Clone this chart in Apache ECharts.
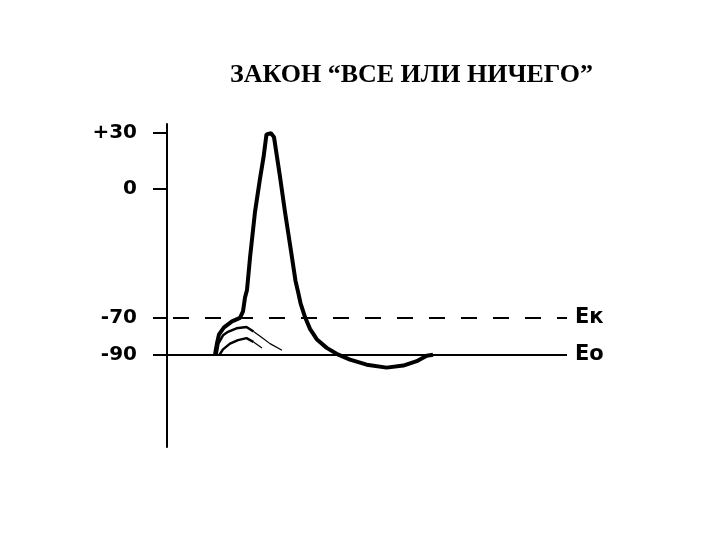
<!DOCTYPE html>
<html>
<head>
<meta charset="utf-8">
<script src="https://cdn.jsdelivr.net/npm/echarts@6/dist/echarts.min.js"></script>
<style>html,body{margin:0;padding:0;background:#fff}#c{width:720px;height:540px}</style>
</head>
<body>
<div id="c"></div>
<script>
// Title and axis labels
const titleText = 'ЗАКОН “ВСЕ ИЛИ НИЧЕГО”';
const yTicks = [30, 0, -70, -90];
const yTickLabels = ['+30', '0', '-70', '-90'];
// Reference potentials (mV)
const EK = -70;
const E0 = -90;
const lineNames = ['Ек', 'Ео'];

// Action potential: [time, mV]
const actionPotential = [
  [4.8, -90], [5.0, -83.8], [5.2, -79], [5.7, -75.2], [6.5, -71.9], [7.3, -70],
  [7.6, -66.5], [7.8, -59], [8.0, -54.9], [8.3, -37.5], [8.8, -12.6], [9.3, 5.4],
  [9.65, 16.9], [9.95, 29.4], [10.1, 30], [10.4, 30], [10.7, 27.9], [11.3, 6.4],
  [11.8, -12.7], [12.45, -35.6], [12.85, -50], [13.15, -57], [13.35, -62],
  [13.8, -69.6], [14.3, -76.0], [14.97, -81.6], [15.97, -86.3], [17.13, -90],
  [18.3, -92.7], [19.97, -95.4], [21.97, -97.0], [23.63, -95.9], [24.97, -93.5],
  [25.97, -90.6], [26.6, -90]
];
// Subthreshold responses (rise + peak, then thin decay tail)
const responseA = [[4.95, -90], [5.15, -83.8], [5.6, -79.5], [6.1, -77.6], [6.95, -75.7], [7.95, -75.0], [8.65, -77.4]];
const responseATail = [[8.65, -77.4], [9.45, -80.5], [10.3, -84.0], [11.5, -87.6]];
const responseB = [[5.25, -90], [5.6, -87.1], [6.3, -84.0], [7.1, -82.1], [7.95, -81.0], [8.65, -83.1]];
const responseBTail = [[8.65, -83.1], [9.5, -86.4]];

const chart = echarts.init(document.getElementById('c'), null, {renderer: 'canvas'});
const lineSeries = (data, w) => ({
  type: 'line', data: data, showSymbol: false, symbol: 'none', smooth: false,
  lineStyle: {color: '#000', width: w}, silent: true, animation: false
});
const apSeries = lineSeries(actionPotential, 4);
apSeries.markLine = {
  silent: true, symbol: 'none', animation: false,
  label: {show: true, position: 'end', distance: 8, formatter: p => p.name,
          color: '#000', fontFamily: 'DejaVu Sans', fontWeight: 'bold', fontSize: 21},
  data: [
    {yAxis: EK, name: lineNames[0], lineStyle: {type: [16, 16], dashOffset: 26, color: '#000', width: 2}},
    {yAxis: E0, name: lineNames[1], lineStyle: {type: 'solid', color: '#000', width: 2}}
  ]
};
chart.setOption({
  backgroundColor: '#fff',
  animation: false,
  title: {
    text: titleText, left: 230, top: 62, padding: 0,
    textStyle: {fontFamily: 'Liberation Serif', fontWeight: 'bold', fontSize: 26, color: '#000'}
  },
  grid: {left: 167, right: 153, top: 124, bottom: 93, containLabel: false},
  xAxis: {type: 'value', min: 0, max: 40, show: false},
  yAxis: {
    type: 'value', min: -140, max: 35,
    splitLine: {show: false},
    axisLine: {show: true, lineStyle: {color: '#000', width: 2}},
    axisTick: {show: true, inside: false, length: 14, customValues: yTicks, lineStyle: {color: '#000', width: 2}},
    axisLabel: {
      show: true, customValues: yTicks, margin: 30,
      formatter: v => yTickLabels[yTicks.indexOf(v)],
      color: '#000', fontFamily: 'DejaVu Sans', fontWeight: 'bold', fontSize: 20
    }
  },
  series: [
    apSeries,
    lineSeries(responseA, 2.5),
    lineSeries(responseATail, 1.2),
    lineSeries(responseB, 2.5),
    lineSeries(responseBTail, 1.2)
  ]
});
</script>
</body>
</html>
